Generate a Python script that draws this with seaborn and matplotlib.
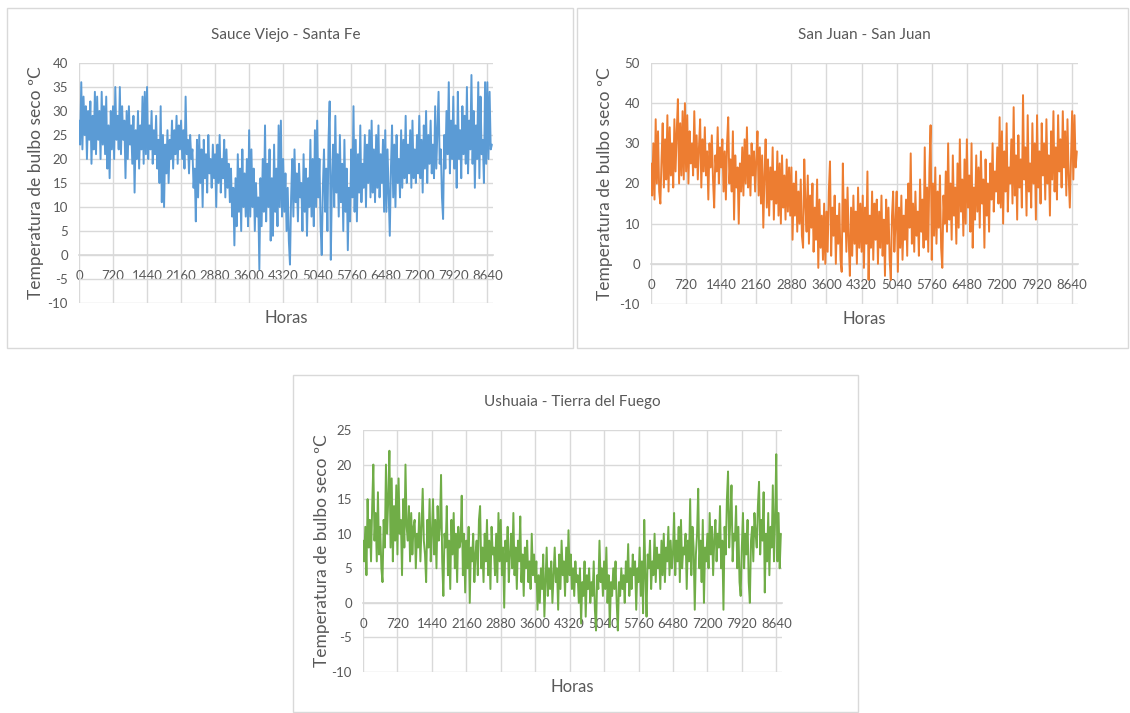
import numpy as np
import pandas as pd
import matplotlib
matplotlib.use("Agg")
import matplotlib.pyplot as plt
from matplotlib.patches import Rectangle
import seaborn as sns

# =========================================
# Data (one value every 24 h)
# =========================================

paso_h = 24

sauce_viejo = [
    28, 23, 36, 22, 33, 25, 31, 20, 30, 24, 32, 19, 29, 22, 34, 21, 33, 24, 30, 20, 34, 23, 31, 21, 33, 18, 27, 16, 30, 22,
    31, 20, 35, 24, 29, 22, 35, 21, 31, 24, 28, 16, 30, 20, 31, 23, 27, 19, 29, 13, 26, 20, 30, 18, 27, 22, 33, 19, 34, 21,
    35, 20, 27, 22, 30, 19, 26, 21, 29, 18, 24, 15, 31, 11, 25, 10, 23, 17, 26, 15, 24, 20, 28, 18, 26, 21, 29, 19, 27, 22,
    28, 20, 26, 18, 33, 21, 24, 17, 25, 20, 22, 14, 18, 7, 24, 12, 25, 15, 22, 10, 24, 16, 21, 13, 25, 17, 20, 14, 23, 16,
    21, 10, 23, 15, 25, 13, 20, 16, 24, 12, 22, 14, 19, 11, 18, 8, 14, 2, 16, 6, 21, 9, 18, 5, 22, 10, 17, 8, 20, 6,
    26, 8, 22, 10, 18, 5, 15, 8, 12, -3, 16, 6, 20, 9, 27, 7, 19, 10, 22, 3, 16, 4, 23, 9, 18, 6, 27, 10, 28, 8,
    20, 9, 17, 5, 14, 3, -2, 12, 20, 8, 22, 11, 17, 7, 19, 12, 15, 5, 21, 9, 18, 4, 16, 10, 24, 8, 20, 6, 26, 10,
    28, 12, 20, 6, 0, 14, 22, 9, 18, 5, 24, 32, -1, 15, 23, 10, 29, 13, 21, 8, 25, 11, 19, 5, 24, 9, 18, 1, 14, 7,
    22, 12, 31, 9, 24, 7, 21, 13, 27, 11, 19, 14, 25, 10, 23, 15, 26, 12, 28, 13, 22, 11, 25, 14, 27, 12, 21, 15, 24, 9,
    26, 9, 22, 13, 4, 18, 27, 12, 23, 10, 25, 15, 20, 12, 26, 14, 24, 16, 29, 15, 23, 17, 26, 14, 28, 16, 22, 15, 25, 17,
    29, 16, 24, 13, 27, 18, 30, 15, 25, 19, 28, 17, 23, 16, 31, 18, 26, 34, 19, 22, 12, 7.5, 25, 18, 30, 21, 36, 17, 28, 20,
    33, 18, 27, 14, 34, 20, 26, 16, 31, 21, 29, 19, 35, 17, 28, 22, 37.5, 19, 30, 14, 27, 20, 36, 16, 33, 21, 24, 15, 36, 19,
    36, 20, 34, 22, 23,
]

san_juan = [
    25, 17, 30, 16, 36, 20, 33, 18, 15, 26, 35, 19, 31, 21, 37, 18, 34, 22, 30, 19, 36, 23, 33, 41, 20, 35, 22, 38, 21, 40,
    23, 37, 20, 33, 25, 30, 22, 38, 24, 32, 21, 29, 36, 19, 31, 23, 34, 22, 28, 16, 30, 24, 32, 21, 14, 27, 23, 34, 20, 29,
    24, 31, 18, 28, 16, 30, 36.5, 20, 26, 18, 33, 11, 27, 19, 24, 10, 25, 18, 29, 17, 31, 20, 34, 19, 27, 17, 30, 22, 28, 18,
    26, 33, 17, 29, 15, 27, 9, 22, 31, 14, 26, 12, 24, 16, 29, 11, 23, 15, 28, 12, 25, 10, 27, 14, 22, 11, 26, 13, 24, 12,
    24, 6, 20, 12, 23, 8, 18, 10, 21, 7, 4, 26, 15, 8, 22, 5, 17, 9, 20, 3, 14, 6, 21, -1, 16, 4, 12, 1, 15, 0,
    13, 3, 18, 25.5, 2, 14, 7, 17, 0, 12, 5, 15, 1, -2, 25, 8, 16, 3, 19, 6, -3, 14, 2, 17, 5, 13, 0, 19, 4, 15,
    3, 17, -1, 14, 5, 23, -4, 12, 4, 18, 1, 15, 6, 16, 0, 13, 4, 17, 2, 11, -3, 16, 5, 14, 1, -4, 12, 18, 3, 10,
    18, -2, 14, 4, 17, 1, 12, 6, 16, 2, 20, 9, 27.5, 5, 15, 3, 18, 7, 13, 2, 21, 8, 16, 4, 29, 6, 19, 3, 24, 34.5,
    1, 20, 7, 24, 5, 18, 9, 22, 4, -1, 17, 10, 23, 8, 30, 11, 20, 6, 27, 12, 19, 5, 25, 9, 31, 13, 21, 7, 26, 10,
    31, 14, 22, 8, 30, 4, 19, 11, 27, 13, 24, 9, 28, 15, 21, 4, 26, 12, 20, 8, 25, 16, 30, 13, 23, 18, 29, 15, 36.5, 14,
    33, 10, 28, 18, 35, 13, 24, 20, 31, 15, 39, 17, 27, 11, 32, 19, 26, 14, 42, 21, 29, 12, 37, 18, 25, 14, 35, 20, 30, 11,
    37, 19, 28, 15, 35, 22, 30, 16, 36, 20, 27, 12, 33, 21, 38, 18, 29, 16, 37, 23, 31, 19, 38, 24, 33, 17, 36, 22, 14, 26,
    38, 21, 37, 24, 28,
]

ushuaia = [
    9, 6, 11, 4, 15, 8, 12, 6, 14, 20, 9, 13, 6, 16, 7, 11, 5, 3, 12, 8, 20, 10, 15, 22, 8, 18, 6, 14, 9, 17,
    7, 18, 10, 12, 4, 15, 8, 20, 11, 9, 14, 6, 13, 7, 11, 12, 5, 10, 8, 13, 6, 11, 16.5, 9, 7, 3, 12, 8, 15, 6,
    10, 15, 7, 12, 5, 14, 9, 11, 18.5, 6, 1, 10, 8, 14, 4, 9, 2, 12, 7, 13, 5, 10, 3, 11, 8, 9, 15.5, 4, 10, 1.5,
    9, 5, 11, 0, 8, 6, 10, 3, 7, 9, 4, 12, 14, 5, 8, 3, 10, 6, 12, 4, 9, 2, 11, 7, 8, 4, 10, 3, 13, 6,
    12, 4, 8, -0.7, 9, 6, 11, 3, 7, 10, 5, 13, 4, 8, 2, 9, 6, 12.5, 3, 7, 1, 8, 5, 9, 3, 6, 2, 10, 4, 7,
    3, 6, -1, 4, 0, 5, 2, 7, -2, 3, 8, 1, 5, 2, 6, 0, 4, 8, 3, 5, -1, 7, 2, 9, 4, 6, 1, 8, 3, 10.5,
    4, 7, 2, 5, 1, 6, 3, 4, 0, 5, -3, 3, 1, 6, -2, 4, 2, 5, 0, 3, 1, 6, -1, -4, 4, 2, 9, 3, 5, 1,
    6, 2, 8, 0, 4, -3.5, 3, 1, 5, 2, 6, 0, -4, 3, 1, 5, 2, 4, 0, 6, 3, 8.5, 1, 5, 2, 7, 4, 6, -1, 5,
    3, 8, 1, 6, -1.5, 12, 4, -2, 7, 5, 9, 2, 6, 4, 10, 3, 8, 5, 7, 2, 9, 4, 10, 3, 8, 6, 11, 4, 9, 5,
    7, 13, 4, 9, 6, 11, 3, 12, 5, 8, 7, 10, 2, 9, 6, 15, 4, 11, 8, -1, 7, 10, 16.5, 5, 9, 3, 12, 0, 8, 6,
    10, 5, 13, 7, 11, 4, 9, 12, 6, 10, 8, 14, 5, 9, -1, 11, 7, 15, 19, 8, 12, 17, 6, 10, 9, 14, 5, 11, 3, 1,
    8, 13, 5, 10, 7, 12, 3, 0, 9, 11, 6, 13, 10, 8, 14, 17.5, 7, 12, 9, 16, 1.5, 10, 6, 13, 4, 11, 8, 17, 6, 12,
    21.5, 6, 13, 5, 10,
]

titulos = ["Sauce Viejo - Santa Fe", "San Juan - San Juan", "Ushuaia - Tierra del Fuego"]
colores = ["#5B9BD5", "#ED7D31", "#70AD47"]
y_limites = [(-10, 40), (-10, 50), (-10, 25)]
y_pasos = [5, 10, 5]
x_ticks = list(range(0, 8641, 720))

# =========================================
# Figure setup
# =========================================

sns.set_theme(style="whitegrid")
plt.rcParams["font.family"] = ["Lato", "DejaVu Sans"]
plt.rcParams["axes.unicode_minus"] = False

W, H = 1130, 713
fig = plt.figure(figsize=(W / 100, H / 100), dpi=100)
fig.patch.set_facecolor("white")

texto = "#595959"
grilla = "#D9D9D9"

# panel boxes (pixels: x0, y0, x1, y1)
cajas = [(7, 8, 573, 348), (577, 8, 1128, 348), (293, 375, 858, 712)]
# plot areas (pixels: left, top, right, bottom)
areas = [(79, 63, 493, 303), (651, 63, 1078, 304), (363, 430, 782, 672)]
ylabel_x = [-0.085, -0.089, -0.079]

for x0, y0, x1, y1 in cajas:
    fig.add_artist(Rectangle((x0 / W, 1 - y1 / H), (x1 - x0) / W, (y1 - y0) / H,
                             transform=fig.transFigure, fill=False,
                             edgecolor=grilla, linewidth=1))

series = [sauce_viejo, san_juan, ushuaia]

# =========================================
# Panels
# =========================================

for i, valores in enumerate(series):
    l, t, r, b = areas[i]
    ax = fig.add_axes([l / W, 1 - b / H, (r - l) / W, (b - t) / H])
    df = pd.DataFrame({"Horas": np.arange(len(valores)) * paso_h, "Temp": valores})
    sns.lineplot(data=df, x="Horas", y="Temp", ax=ax, color=colores[i], linewidth=1.4)

    ax.set_facecolor("white")
    ax.set_xlim(0, 8760)
    ax.set_ylim(*y_limites[i])
    ax.set_xticks(x_ticks)
    ax.set_yticks(range(y_limites[i][0], y_limites[i][1] + 1, y_pasos[i]))
    ax.grid(True, color=grilla, linewidth=1)
    for s in ["left", "right", "top"]:
        ax.spines[s].set_visible(False)
    ax.spines["bottom"].set_position(("data", 0))
    ax.spines["bottom"].set_color(grilla)
    ax.spines["bottom"].set_zorder(0)
    ax.tick_params(axis="x", length=0, labelsize=9.5, labelcolor=texto, pad=11)
    ax.tick_params(axis="y", length=0, labelsize=9.5, labelcolor=texto, pad=8)

    ax.set_title(titulos[i], fontsize=11, color=texto, pad=17)
    ax.set_xlabel("Horas", fontsize=12, color=texto)
    ax.set_ylabel("Temperatura de bulbo seco ºC", fontsize=12.5, color=texto)
    ax.xaxis.set_label_coords(0.5, -0.03)
    ax.yaxis.set_label_coords(ylabel_x[i], 0.5)

plt.savefig("out.png", dpi=100, facecolor="white")
